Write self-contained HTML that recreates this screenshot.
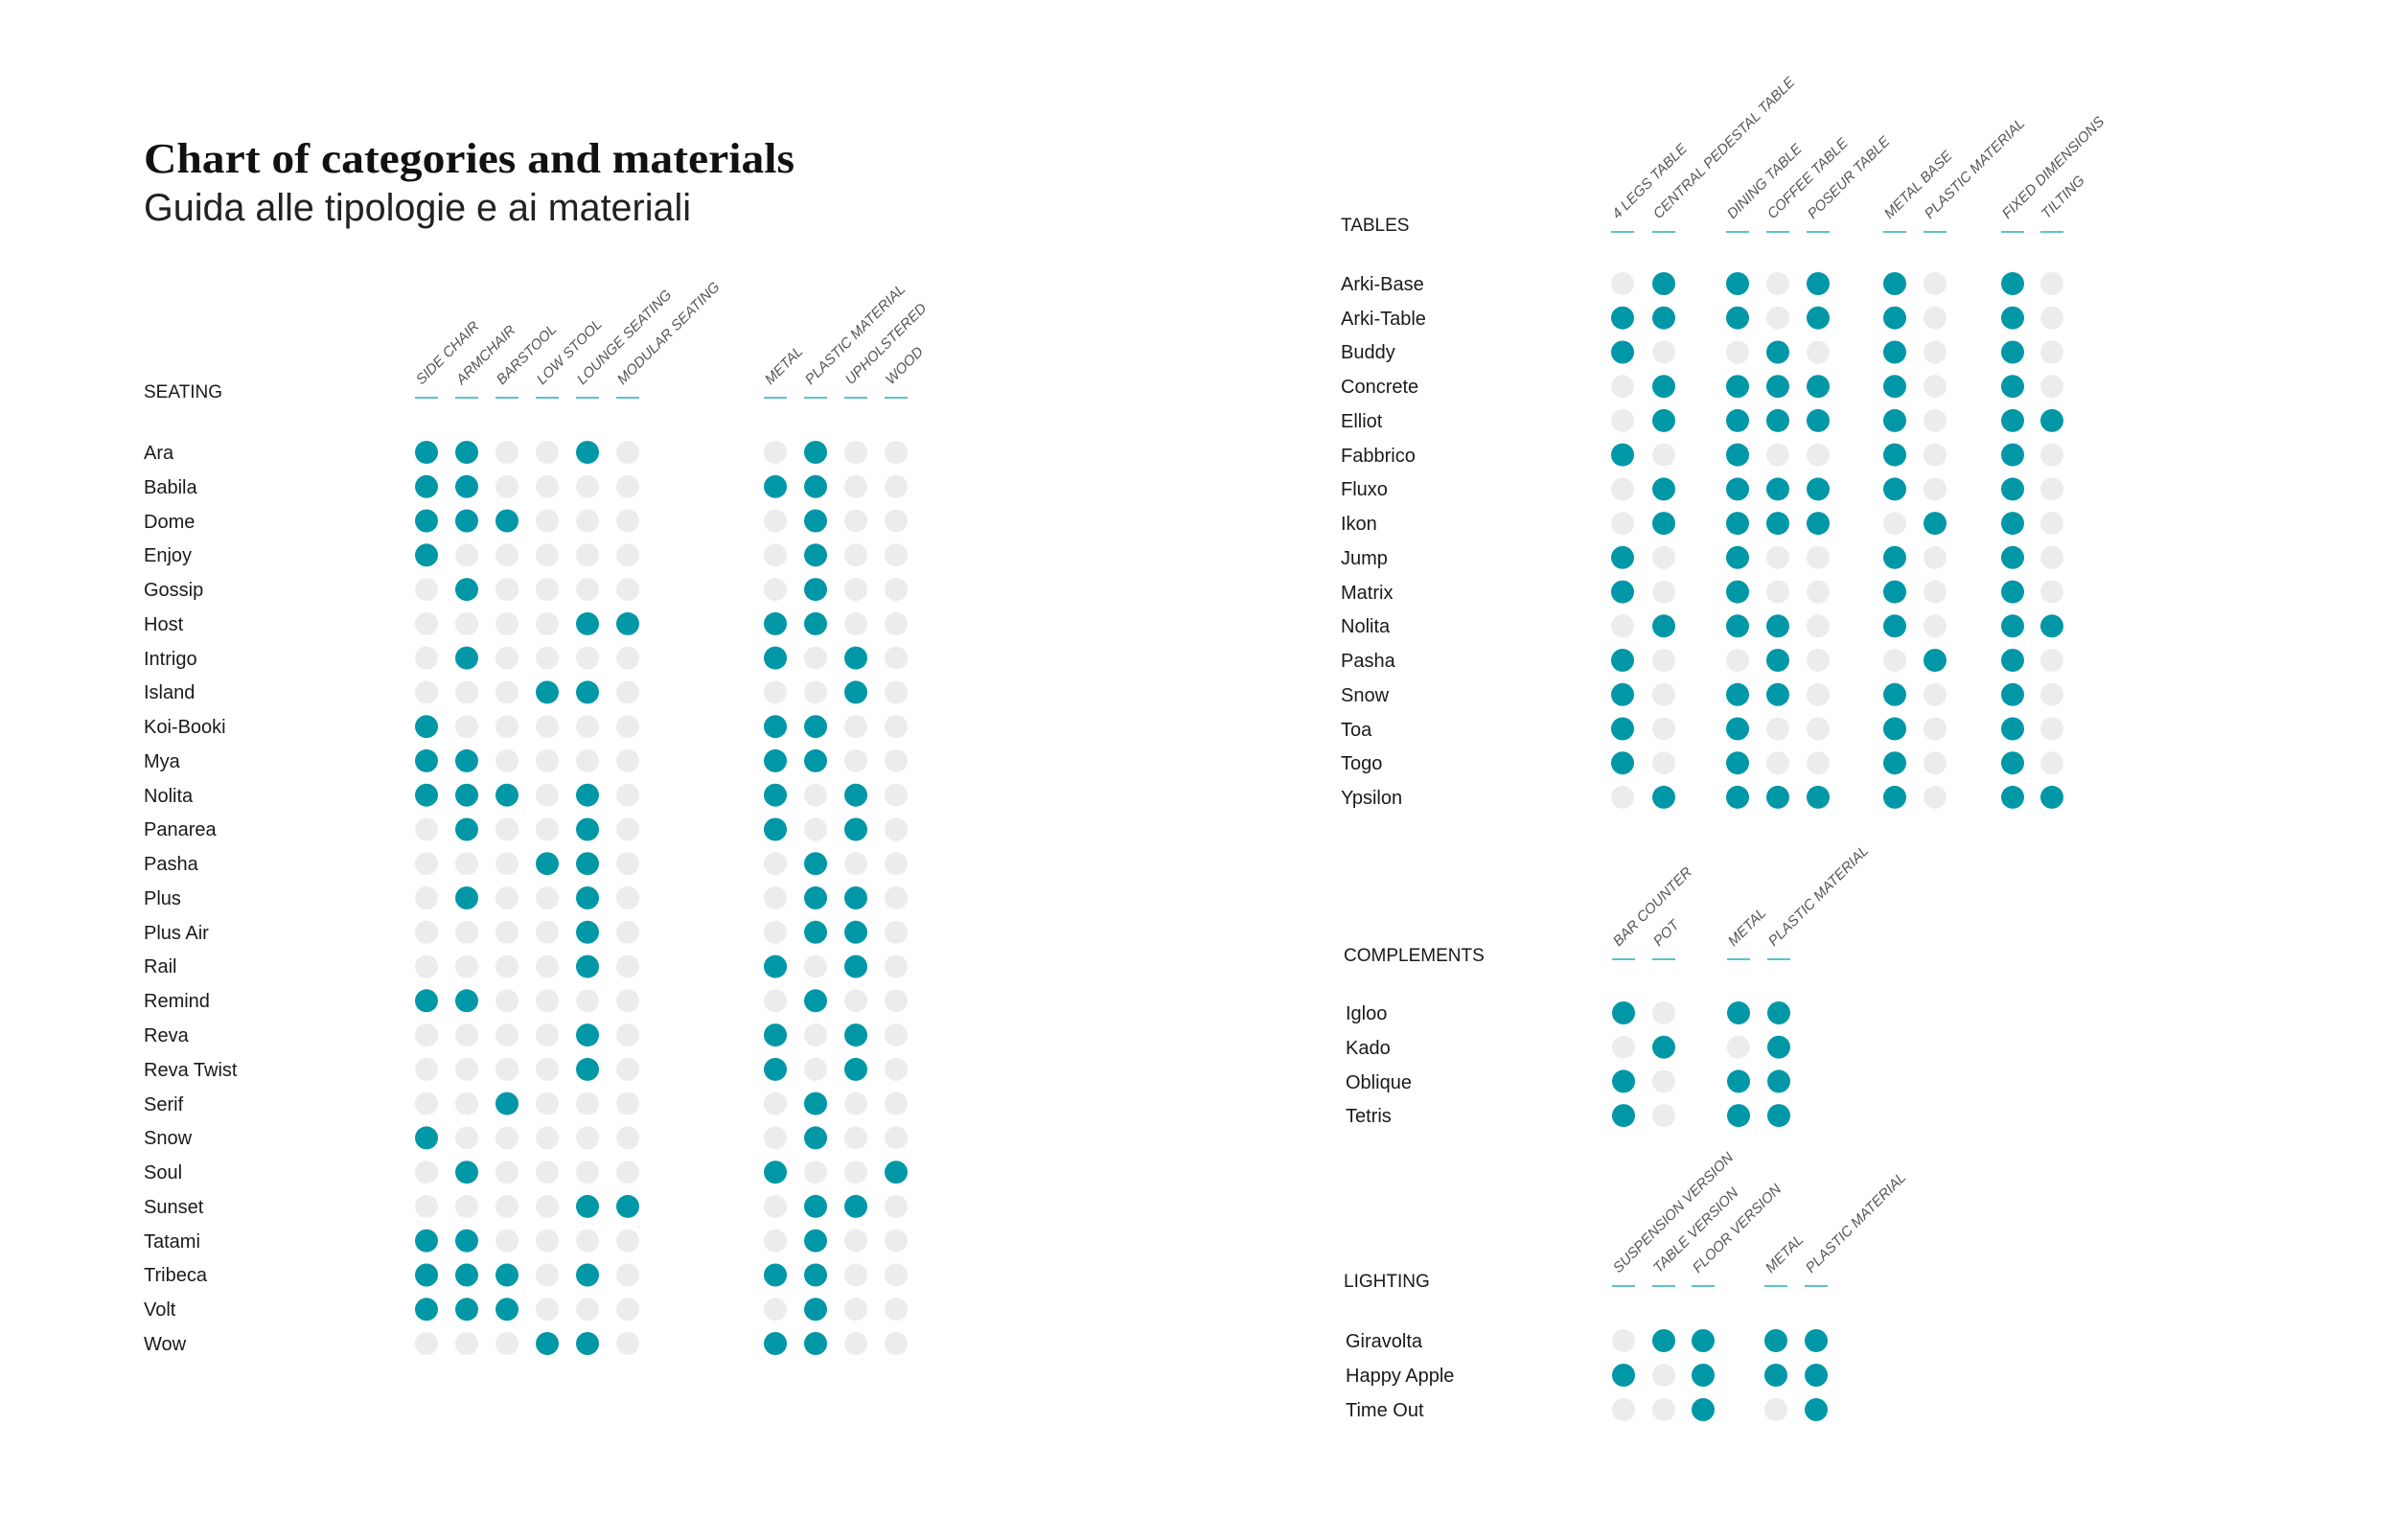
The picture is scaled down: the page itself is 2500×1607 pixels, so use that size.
<!DOCTYPE html>
<html><head><meta charset="utf-8">
<style>
html,body{margin:0;padding:0;background:#fff;}
svg{display:block;}
.n{font-family:"Liberation Sans",sans-serif;font-size:20px;fill:#1a1a1a;}
.h{font-family:"Liberation Sans",sans-serif;font-size:19px;fill:#1a1a1a;}
.l{font-family:"Liberation Sans",sans-serif;font-size:15px;font-style:italic;fill:#555;}
</style></head>
<body>
<svg id="s" width="2500" height="1607" viewBox="0 0 2500 1607" xmlns="http://www.w3.org/2000/svg">
<text x="150" y="180" font-family="Liberation Serif,serif" font-size="44" font-weight="bold" fill="#111" textLength="679" lengthAdjust="spacingAndGlyphs">Chart of categories and materials</text>
<text x="150" y="230" font-family="Liberation Sans,sans-serif" font-size="40" fill="#222" textLength="571" lengthAdjust="spacingAndGlyphs">Guida alle tipologie e ai materiali</text>

<text class="h" x="150" y="415">SEATING</text>
<g class="n">
<text x="150" y="479">Ara</text><text x="150" y="515">Babila</text><text x="150" y="551">Dome</text><text x="150" y="586">Enjoy</text><text x="150" y="622">Gossip</text><text x="150" y="658">Host</text><text x="150" y="694">Intrigo</text><text x="150" y="729">Island</text><text x="150" y="765">Koi-Booki</text><text x="150" y="801">Mya</text><text x="150" y="837">Nolita</text><text x="150" y="872">Panarea</text><text x="150" y="908">Pasha</text><text x="150" y="944">Plus</text><text x="150" y="980">Plus Air</text><text x="150" y="1015">Rail</text><text x="150" y="1051">Remind</text><text x="150" y="1087">Reva</text><text x="150" y="1123">Reva Twist</text><text x="150" y="1159">Serif</text><text x="150" y="1194">Snow</text><text x="150" y="1230">Soul</text><text x="150" y="1266">Sunset</text><text x="150" y="1302">Tatami</text><text x="150" y="1337">Tribeca</text><text x="150" y="1373">Volt</text><text x="150" y="1409">Wow</text>
</g>
<g class="l">
<text transform="translate(440,402) rotate(-45)">SIDE CHAIR</text>
<text transform="translate(482,402) rotate(-45)">ARMCHAIR</text>
<text transform="translate(524,402) rotate(-45)">BARSTOOL</text>
<text transform="translate(566,402) rotate(-45)">LOW STOOL</text>
<text transform="translate(608,402) rotate(-45)">LOUNGE SEATING</text>
<text transform="translate(650,402) rotate(-45)">MODULAR SEATING</text>
<text transform="translate(804,402) rotate(-45)">METAL</text>
<text transform="translate(846,402) rotate(-45)">PLASTIC MATERIAL</text>
<text transform="translate(888,402) rotate(-45)">UPHOLSTERED</text>
<text transform="translate(930,402) rotate(-45)">WOOD</text>
</g>

<text class="h" x="1399" y="241">TABLES</text>
<g class="n">
<text x="1399" y="303">Arki-Base</text><text x="1399" y="339">Arki-Table</text><text x="1399" y="374">Buddy</text><text x="1399" y="410">Concrete</text><text x="1399" y="446">Elliot</text><text x="1399" y="482">Fabbrico</text><text x="1399" y="517">Fluxo</text><text x="1399" y="553">Ikon</text><text x="1399" y="589">Jump</text><text x="1399" y="625">Matrix</text><text x="1399" y="660">Nolita</text><text x="1399" y="696">Pasha</text><text x="1399" y="732">Snow</text><text x="1399" y="768">Toa</text><text x="1399" y="803">Togo</text><text x="1399" y="839">Ypsilon</text>
</g>
<g class="l">
<text transform="translate(1688,229) rotate(-45)">4 LEGS TABLE</text>
<text transform="translate(1731,229) rotate(-45)">CENTRAL PEDESTAL TABLE</text>
<text transform="translate(1808,229) rotate(-45)">DINING TABLE</text>
<text transform="translate(1850,229) rotate(-45)">COFFEE TABLE</text>
<text transform="translate(1892,229) rotate(-45)">POSEUR TABLE</text>
<text transform="translate(1972,229) rotate(-45)">METAL BASE</text>
<text transform="translate(2014,229) rotate(-45)">PLASTIC MATERIAL</text>
<text transform="translate(2095,229) rotate(-45)">FIXED DIMENSIONS</text>
<text transform="translate(2136,229) rotate(-45)">TILTING</text>
</g>

<text class="h" x="1402" y="1003">COMPLEMENTS</text>
<g class="n">
<text x="1404" y="1064">Igloo</text><text x="1404" y="1100">Kado</text><text x="1404" y="1136">Oblique</text><text x="1404" y="1171">Tetris</text>
</g>
<g class="l">
<text transform="translate(1689,988) rotate(-45)">BAR COUNTER</text>
<text transform="translate(1731,988) rotate(-45)">POT</text>
<text transform="translate(1809,988) rotate(-45)">METAL</text>
<text transform="translate(1851,988) rotate(-45)">PLASTIC MATERIAL</text>
</g>

<text class="h" x="1402" y="1343">LIGHTING</text>
<g class="n">
<text x="1404" y="1406">Giravolta</text><text x="1404" y="1442">Happy Apple</text><text x="1404" y="1478">Time Out</text>
</g>
<g class="l">
<text transform="translate(1689,1329) rotate(-45)">SUSPENSION VERSION</text>
<text transform="translate(1731,1329) rotate(-45)">TABLE VERSION</text>
<text transform="translate(1772,1329) rotate(-45)">FLOOR VERSION</text>
<text transform="translate(1848,1329) rotate(-45)">METAL</text>
<text transform="translate(1890,1329) rotate(-45)">PLASTIC MATERIAL</text>
</g>
<g id="dots"></g>
</svg>
<script>
(function(){
var T="#0097a7",G="#ececec",g=document.getElementById("dots"),NS="http://www.w3.org/2000/svg",h="";
function block(cols,y0,step,rows,uy){
  for(var c=0;c<cols.length;c++){
    h+='<line x1="'+(cols[c]-12)+'" x2="'+(cols[c]+12)+'" y1="'+uy+'" y2="'+uy+'" stroke="#5cc3cb" stroke-width="2"/>';
  }
  for(var r=0;r<rows.length;r++){
    var s=rows[r].replace(/ /g,"");
    for(var c=0;c<cols.length;c++){
      h+='<circle cx="'+cols[c]+'" cy="'+(y0+step*r).toFixed(1)+'" r="12" fill="'+(s[c]=="1"?T:G)+'"/>';
    }
  }
}
block([445,487,529,571,613,655,809,851,893,935],472,35.77,[
"1100100100","1100001100","1110000100","1000000100","0100000100","0000111100","0100001010","0001100010","1000001100","1100001100","1110101010","0100101010","0001100100","0100100110","0000100110","0000101010","1100000100","0000101010","0000101010","0010000100","1000000100","0100001001","0000110110","1100000100","1110101100","1110000100","0001101100"],415);
block([1693,1736,1813,1855,1897,1977,2019,2100,2141],296,35.73,[
"011011010","111011010","100101010","011111010","011111011","101001010","011111010","011110110","101001010","101001010","011101011","100100110","101101010","101001010","101001010","011111011"],242);
block([1694,1736,1814,1856],1057,35.7,["1011","0101","1011","1011"],1001);
block([1694,1736,1777,1853,1895],1399,36,["01111","10111","00101"],1342);
g.innerHTML=h;
})();
</script>
</body></html>
